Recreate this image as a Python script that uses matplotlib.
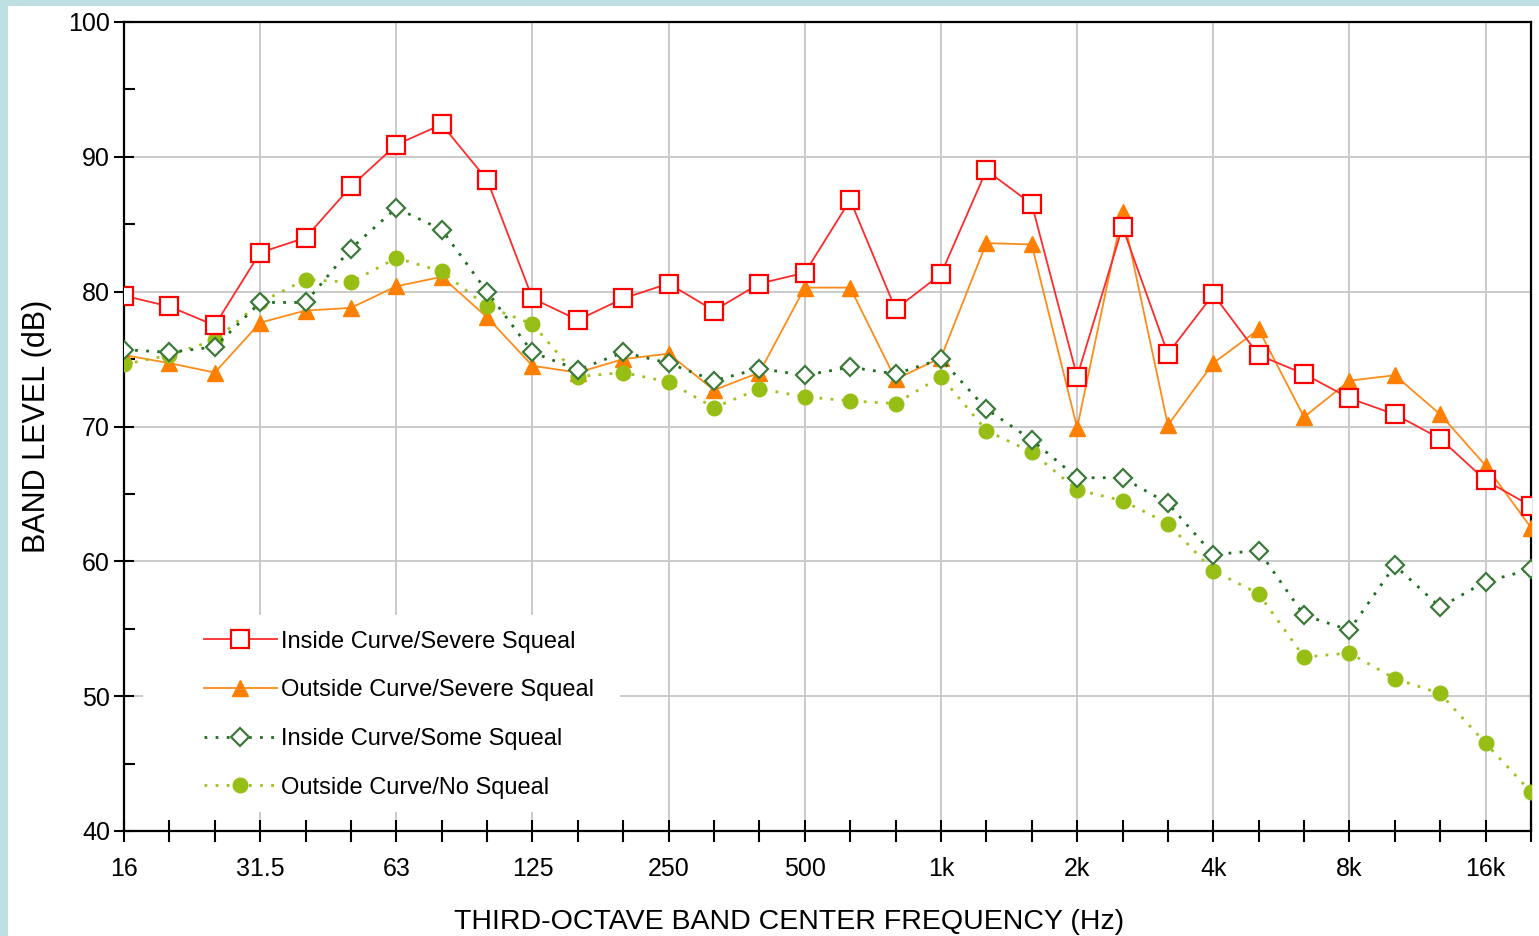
import matplotlib
matplotlib.use("Agg")
import matplotlib.pyplot as plt
import matplotlib.patches as patches
from matplotlib.ticker import FixedLocator

# third-octave band centres, 16 Hz .. 20 kHz
bands = ["16", "20", "25", "31.5", "40", "50", "63", "80", "100", "125", "160", "200",
         "250", "315", "400", "500", "630", "800", "1k", "1.25k", "1.6k", "2k", "2.5k",
         "3.15k", "4k", "5k", "6.3k", "8k", "10k", "12.5k", "16k", "20k"]
octave_labels = ["16", "31.5", "63", "125", "250", "500", "1k", "2k", "4k", "8k", "16k"]

inside_severe = [79.7, 78.9, 77.5, 82.9, 84.0, 87.8, 90.9, 92.4, 88.3, 79.5, 77.9, 79.5,
                 80.6, 78.6, 80.6, 81.4, 86.8, 78.7, 81.3, 89.0, 86.5, 73.7, 84.8, 75.4,
                 79.8, 75.3, 73.9, 72.1, 70.9, 69.1, 66.0, 64.1]
outside_severe = [75.3, 74.7, 74.0, 77.7, 78.6, 78.8, 80.4, 81.1, 78.1, 74.5, 74.0, 75.0,
                  75.4, 72.7, 74.0, 80.3, 80.3, 73.5, 75.1, 83.6, 83.5, 69.9, 85.9, 70.1,
                  74.7, 77.2, 70.7, 73.4, 73.8, 70.9, 67.1, 62.5]
inside_some = [75.7, 75.5, 75.9, 79.2, 79.2, 83.2, 86.2, 84.6, 80.0, 75.5, 74.2, 75.5,
               74.7, 73.4, 74.3, 73.8, 74.4, 73.9, 75.0, 71.3, 69.0, 66.2, 66.2, 64.3,
               60.5, 60.8, 56.0, 54.9, 59.7, 56.6, 58.5, 59.4]
outside_none = [74.6, 75.3, 76.4, 79.2, 80.9, 80.7, 82.5, 81.5, 78.9, 77.6, 73.7, 74.0,
                73.3, 71.4, 72.8, 72.2, 71.9, 71.7, 73.7, 69.7, 68.1, 65.3, 64.5, 62.8,
                59.3, 57.6, 52.9, 53.2, 51.3, 50.2, 46.5, 42.9]

series_names = ["Inside Curve/Severe Squeal", "Outside Curve/Severe Squeal",
                "Inside Curve/Some Squeal", "Outside Curve/No Squeal"]

plt.rcParams["font.family"] = ["Liberation Sans", "DejaVu Sans"]

fig = plt.figure(figsize=(15.39, 9.36), dpi=100, facecolor="#BDDFE2")
# white page inside the light blue frame
fig.patches.append(patches.Rectangle((8 / 1539, 0), 1, 1 - 6 / 936, transform=fig.transFigure,
                                     facecolor="white", edgecolor="none", zorder=-10))
ax = fig.add_axes([124 / 1539, 105 / 936, 1407 / 1539, 809 / 936])
ax.set_facecolor("white")

x = list(range(len(bands)))

ax.plot(x, outside_severe, color="#FF8C1A", lw=1.3, marker="^", ms=11,
        markerfacecolor="#FF8000", markeredgecolor="#FF8000", label=series_names[1], zorder=3)
ax.plot(x, outside_none, color="#9DC21E", lw=2.0, ls=(0, (1, 3)), marker="o", ms=10.5,
        markerfacecolor="#96BE14", markeredgecolor="#96BE14", label=series_names[3], zorder=4)
ax.plot(x, inside_some, color="#1E6E1E", lw=2.0, ls=(0, (1, 3)), marker="D", ms=9,
        markerfacecolor="white", markeredgecolor="#3C7A3C", markeredgewidth=1.6,
        label=series_names[2], zorder=5)
ax.plot(x, inside_severe, color="#FF2A2A", lw=1.3, marker="s", ms=13,
        markerfacecolor="white", markeredgecolor="#FF0000", markeredgewidth=1.6,
        label=series_names[0], zorder=6)

ax.set_xlim(0, len(bands) - 1)
ax.set_ylim(40, 100)

octave_pos = [bands.index(b) for b in octave_labels]
ax.set_xticks(x)
ax.set_xticklabels([b if b in octave_labels else "" for b in bands], fontsize=18)
ax.set_yticks(range(40, 101, 10))
ax.yaxis.set_minor_locator(FixedLocator(range(45, 100, 10)))
ax.tick_params(axis="y", which="major", direction="inout", length=14, width=1.5,
               labelsize=18, pad=3)
ax.tick_params(axis="y", which="minor", direction="in", length=8, width=1.5)
ax.tick_params(axis="x", which="major", direction="inout", length=16, width=1.5, pad=11)

# grid: octave verticals and 10 dB horizontals
for p in octave_pos[1:]:
    ax.axvline(p, color="#CACACA", lw=1.4, zorder=1)
for v in range(50, 100, 10):
    ax.axhline(v, color="#CACACA", lw=1.4, zorder=1)

for s in ax.spines.values():
    s.set_linewidth(1.6)
    s.set_color("black")

ax.set_ylabel("BAND LEVEL (dB)", fontsize=22)
ax.yaxis.set_label_coords(-0.0515, 0.5)
ax.set_xlabel("THIRD-OCTAVE BAND CENTER FREQUENCY (Hz)", fontsize=20.5)
ax.xaxis.set_label_coords(0.4726, -0.097)

# white area behind the legend hides the grid
ax.add_patch(patches.Rectangle((19 / 1407, 19 / 809), 477 / 1407, 197 / 809,
                               transform=ax.transAxes, facecolor="white",
                               edgecolor="none", zorder=2))

handles, labels = ax.get_legend_handles_labels()
order = [labels.index(n) for n in series_names]
leg = ax.legend([handles[i] for i in order], [labels[i] for i in order],
                loc="upper left", bbox_to_anchor=(0.045, 0.268), frameon=False,
                handlelength=3.1, handletextpad=0.15, labelspacing=1.13,
                borderpad=0.2, prop={"size": 17})
leg.set_zorder(7)

fig.savefig("out.png", dpi=100, facecolor=fig.get_facecolor())
